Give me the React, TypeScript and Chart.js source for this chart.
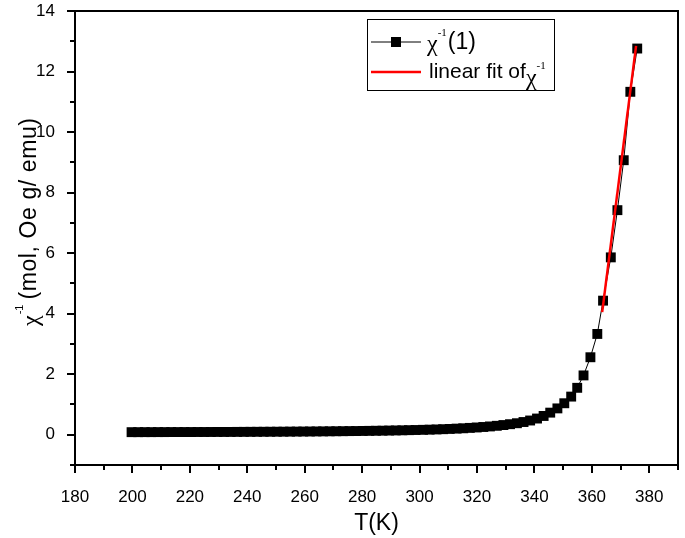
import React, { useEffect, useRef } from "react";
import { Chart, registerables } from "chart.js";

Chart.register(...registerables);

const tempK: number[] = [
  199.7, 202.0, 204.3, 206.6, 208.9, 211.2, 213.5, 215.8, 218.1, 220.4,
  222.7, 225.0, 227.3, 229.6, 231.9, 234.2, 236.5, 238.8, 241.1, 243.4,
  245.7, 248.0, 250.3, 252.6, 254.9, 257.2, 259.5, 261.8, 264.1, 266.4,
  268.7, 271.0, 273.3, 275.6, 277.9, 280.2, 282.5, 284.8, 287.1, 289.4,
  291.7, 294.0, 296.3, 298.6, 301.2, 303.5, 305.9, 308.2, 310.5, 312.9,
  315.2, 317.5, 319.9, 322.2, 324.5, 326.9, 329.2, 331.5, 333.9, 336.2,
  338.5, 340.9, 343.2, 345.5, 348.0, 350.4, 352.8, 354.9, 357.1, 359.5,
  361.9, 363.9, 366.6, 368.9, 371.1, 373.4, 375.8,
];

const chiInv: number[] = [
  0.085, 0.085, 0.086, 0.086, 0.087, 0.087, 0.088, 0.088, 0.089, 0.089,
  0.09, 0.09, 0.091, 0.092, 0.092, 0.093, 0.094, 0.095, 0.096, 0.097,
  0.098, 0.099, 0.1, 0.101, 0.103, 0.104, 0.106, 0.107, 0.109, 0.111,
  0.113, 0.115, 0.117, 0.12, 0.122, 0.125, 0.128, 0.131, 0.134, 0.138,
  0.142, 0.146, 0.151, 0.156, 0.162, 0.168, 0.175, 0.183, 0.192, 0.202,
  0.213, 0.226, 0.24, 0.256, 0.274, 0.295, 0.32, 0.348, 0.38, 0.42,
  0.47, 0.535, 0.62, 0.73, 0.87, 1.04, 1.26, 1.55, 1.96, 2.56,
  3.33, 4.43, 5.86, 7.42, 9.07, 11.33, 12.76,
];

const fitT: number[] = [363.6, 375.4];
const fitChi: number[] = [4.05, 12.85];

const xMajorTicks: number[] = [180, 200, 220, 240, 260, 280, 300, 320, 340, 360, 380];
const xMinorTicks: number[] = [190, 210, 230, 250, 270, 290, 310, 330, 350, 370, 390];
const yMajorTicks: number[] = [0, 2, 4, 6, 8, 10, 12, 14];
const yMinorTicks: number[] = [-1, 1, 3, 5, 7, 9, 11, 13];

const SANS = "'Liberation Sans', Arial, sans-serif";
const SERIF = "'Liberation Serif', 'Times New Roman', serif";

const decorPlugin = {
  id: "decor",
  afterDraw(chart: any) {
    const ctx = chart.ctx as CanvasRenderingContext2D;
    const area = chart.chartArea;
    const xs = chart.scales.x;
    const ys = chart.scales.y;
    ctx.save();
    ctx.strokeStyle = "#000";
    ctx.fillStyle = "#000";
    // frame top & right
    ctx.lineWidth = 2;
    ctx.beginPath();
    ctx.moveTo(area.left, area.top);
    ctx.lineTo(area.right, area.top);
    ctx.lineTo(area.right, area.bottom);
    ctx.stroke();
    // ticks
    const drawX = (v: number, len: number) => {
      const px = Math.round(xs.getPixelForValue(v));
      ctx.beginPath();
      ctx.moveTo(px, area.bottom);
      ctx.lineTo(px, area.bottom + len);
      ctx.stroke();
    };
    const drawY = (v: number, len: number) => {
      const py = Math.round(ys.getPixelForValue(v));
      ctx.beginPath();
      ctx.moveTo(area.left, py);
      ctx.lineTo(area.left - len, py);
      ctx.stroke();
    };
    xMajorTicks.forEach((v) => drawX(v, 8));
    xMinorTicks.forEach((v) => drawX(v, 5));
    yMajorTicks.forEach((v) => drawY(v, 8));
    yMinorTicks.forEach((v) => drawY(v, 5));

    // x title
    ctx.font = `23px ${SANS}`;
    ctx.textAlign = "center";
    ctx.textBaseline = "alphabetic";
    ctx.fillText("T(K)", (area.left + area.right) / 2, 530);

    // y title (rotated)
    ctx.save();
    ctx.translate(30, 326);
    ctx.rotate(-Math.PI / 2);
    ctx.textAlign = "left";
    ctx.textBaseline = "middle";
    let cx = 0;
    ctx.font = `24px ${SERIF}`;
    ctx.fillText("\u03c7", cx, 2);
    cx += ctx.measureText("\u03c7").width + 1;
    ctx.font = `11px ${SANS}`;
    ctx.fillText("-1", cx, -10);
    cx += ctx.measureText("-1").width + 5;
    ctx.font = `23px ${SANS}`;
    (ctx as any).letterSpacing = "0.6px";
    ctx.fillText("(mol, Oe g/ emu)", cx, 0);
    (ctx as any).letterSpacing = "0px";
    ctx.restore();

    // legend
    const lx = 367;
    const ly = 19;
    const lw = 187;
    const lh = 71;
    ctx.fillStyle = "#fff";
    ctx.fillRect(lx, ly, lw, lh);
    ctx.strokeStyle = "#000";
    ctx.lineWidth = 1;
    ctx.strokeRect(lx + 0.5, ly + 0.5, lw, lh);
    ctx.fillStyle = "#000";
    // row 1
    const r1 = ly + 23;
    ctx.lineWidth = 1;
    ctx.beginPath();
    ctx.moveTo(371, r1);
    ctx.lineTo(421, r1);
    ctx.stroke();
    ctx.fillRect(391, r1 - 5, 10, 10);
    ctx.textBaseline = "middle";
    ctx.textAlign = "left";
    let tx = 427;
    ctx.font = `24px ${SERIF}`;
    ctx.fillText("\u03c7", tx, r1 + 3);
    tx += ctx.measureText("\u03c7").width;
    ctx.font = `11px ${SERIF}`;
    ctx.fillText("-1", tx, r1 - 9);
    tx += ctx.measureText("-1").width + 1;
    ctx.font = `23px ${SANS}`;
    ctx.fillText("(1)", tx, r1 + 1);
    // row 2
    const r2 = ly + 53;
    ctx.strokeStyle = "#ff0000";
    ctx.lineWidth = 2.5;
    ctx.beginPath();
    ctx.moveTo(371, r2);
    ctx.lineTo(421, r2);
    ctx.stroke();
    tx = 429;
    ctx.font = `21px ${SANS}`;
    ctx.fillText("linear fit of", tx, r2);
    tx += ctx.measureText("linear fit of").width;
    ctx.font = `24px ${SERIF}`;
    ctx.fillText("\u03c7", tx, r2 + 7);
    tx += ctx.measureText("\u03c7").width;
    ctx.font = `11px ${SERIF}`;
    ctx.fillText("-1", tx, r2 - 6);
    ctx.restore();
  },
};

export default function App() {
  const ref = useRef<HTMLCanvasElement | null>(null);
  useEffect(() => {
    document.body.style.margin = "0";
    const canvas = ref.current;
    if (!canvas) return;
    const points = tempK.map((t, i) => ({ x: t, y: chiInv[i] }));
    const fit = fitT.map((t, i) => ({ x: t, y: fitChi[i] }));
    const tickFont = { family: SANS, size: 17 };
    const chart = new Chart(canvas, {
      type: "scatter",
      data: {
        datasets: [
          {
            label: "linear fit",
            data: fit,
            showLine: true,
            borderColor: "#ff0000",
            borderWidth: 2.5,
            pointRadius: 0,
          },
          {
            label: "chi-1 (1)",
            data: points,
            showLine: true,
            borderColor: "#000",
            borderWidth: 1,
            pointStyle: "rect",
            pointRadius: 7,
            pointBackgroundColor: "#000",
            pointBorderColor: "#000",
            pointBorderWidth: 0,
          },
        ],
      },
      options: {
        animation: false,
        responsive: false,
        devicePixelRatio: 1,
        layout: { padding: { top: 11, right: 2, left: 0, bottom: 0 } },
        plugins: {
          legend: { display: false },
          tooltip: { enabled: false },
        },
        scales: {
          x: {
            type: "linear",
            min: 180,
            max: 390,
            afterFit: (s: any) => {
              s.height = 73;
              s.paddingLeft = 0;
              s.paddingRight = 0;
            },
            grid: { display: false },
            border: { display: true, color: "#000", width: 2 },
            ticks: {
              stepSize: 10,
              autoSkip: false,
              maxRotation: 0,
              color: "#000",
              font: tickFont,
              padding: 14,
              callback: (v: any) =>
                Number(v) % 20 === 0 && Number(v) <= 380 ? String(v) : "",
            },
          },
          y: {
            type: "linear",
            min: -1,
            max: 14,
            afterFit: (s: any) => {
              s.width = 75;
              s.paddingTop = 0;
              s.paddingBottom = 0;
            },
            grid: { display: false },
            border: { display: true, color: "#000", width: 2 },
            ticks: {
              stepSize: 1,
              autoSkip: false,
              color: "#000",
              font: tickFont,
              padding: 12,
              callback: (v: any) =>
                Number(v) >= 0 && Number(v) % 2 === 0 ? String(v) : "",
            },
          },
        },
      },
      plugins: [decorPlugin],
    });
    return () => chart.destroy();
  }, []);
  return (
    <div style={{ width: 685, height: 538, background: "#fff" }}>
      <canvas ref={ref} width={685} height={538} style={{ display: "block" }} />
    </div>
  );
}
